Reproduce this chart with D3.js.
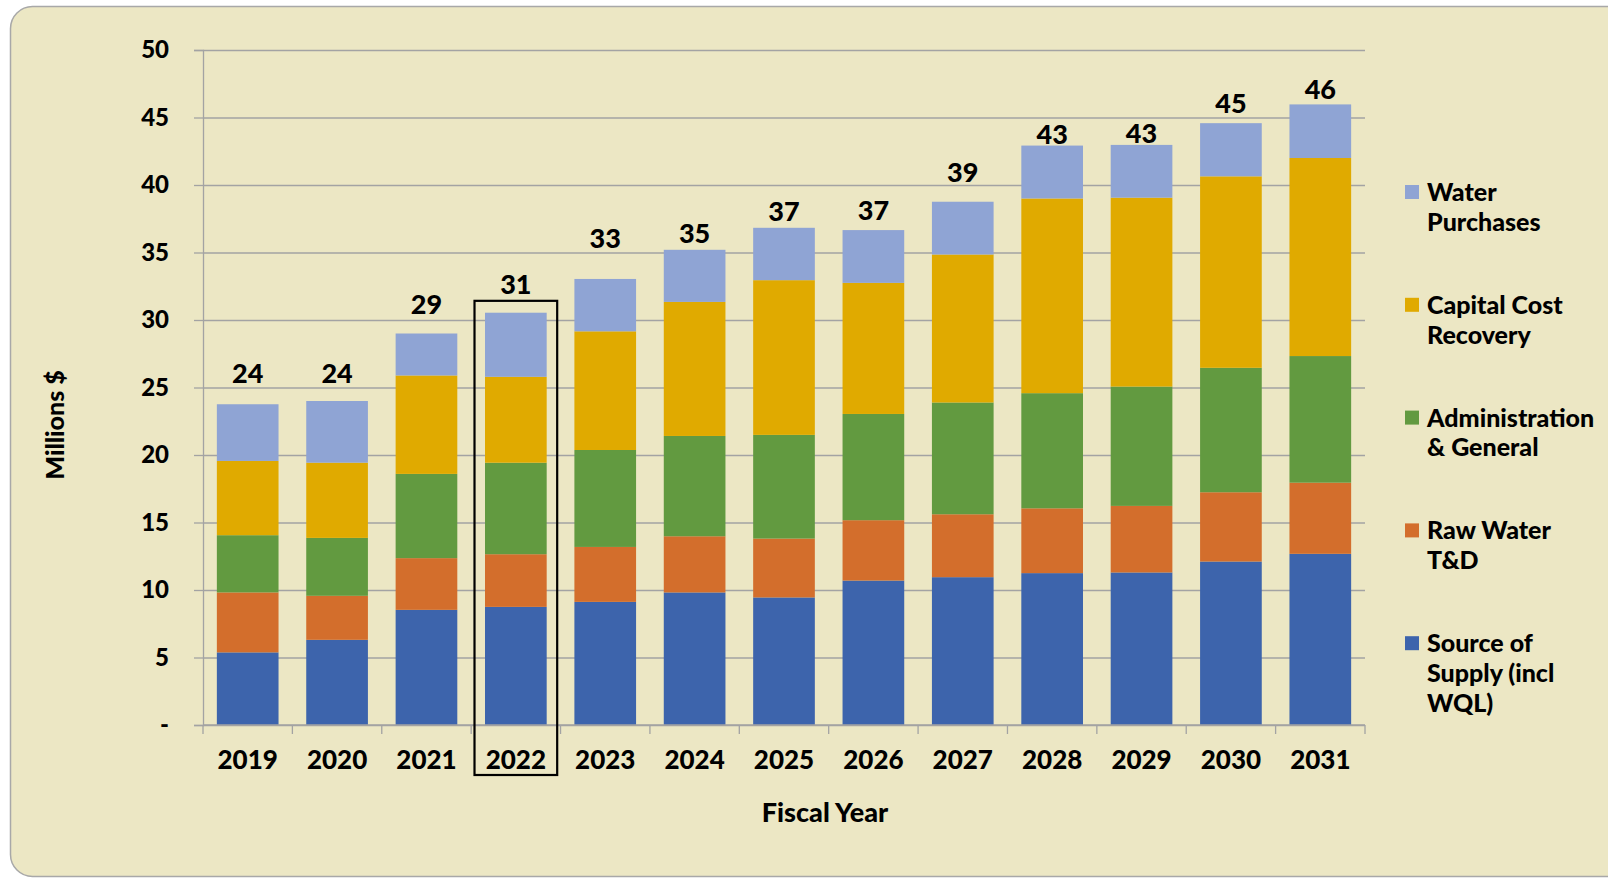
<!DOCTYPE html>
<html>
<head>
<meta charset="utf-8">
<script src="https://cdn.jsdelivr.net/npm/d3@7"></script>
<style>
  body { margin: 0; background: #ffffff; }
  svg { display: block; font-family: Lato, "Open Sans", sans-serif; font-weight: bold; }
</style>
</head>
<body>
<div id="chart"></div>
<script>
// data (millions $)
var years = ["2019","2020","2021","2022","2023","2024","2025","2026","2027","2028","2029","2030","2031"];
var sourceSupply = [5.38, 6.31, 8.53, 8.75, 9.12, 9.82, 9.45, 10.70, 10.95, 11.25, 11.30, 12.11, 12.68];
var rawWater     = [4.44, 3.26, 3.83, 3.90, 4.07, 4.16, 4.36, 4.47, 4.66, 4.80, 4.93, 5.13, 5.27];
var adminGeneral = [4.24, 4.29, 6.24, 6.78, 7.18, 7.43, 7.68, 7.87, 8.28, 8.53, 8.84, 9.22, 9.38];
var capitalCost  = [5.50, 5.57, 7.29, 6.36, 8.79, 9.93, 11.46, 9.71, 10.96, 14.42, 13.99, 14.18, 14.67];
var waterPurch   = [4.20, 4.57, 3.11, 4.75, 3.88, 3.86, 3.88, 3.91, 3.91, 3.92, 3.91, 3.94, 3.97];
// total labels and the height (in millions) they sit at on the original chart
var totalLabels  = ["24","24","29","31","33","35","37","37","39","43","43","45","46"];
var labelAt      = [25.34, 25.34, 30.47, 31.94, 35.37, 35.70, 37.37, 37.41, 40.22, 43.04, 43.14, 45.33, 46.39];
var yTicks = [0, 5, 10, 15, 20, 25, 30, 35, 40, 45, 50];
var highlightYear = "2022";
var highlightTop = 31.42;

var seriesNames = ["Source of Supply (incl WQL)", "Raw Water T&D", "Administration & General", "Capital Cost Recovery", "Water Purchases"];
var seriesValues = [sourceSupply, rawWater, adminGeneral, capitalCost, waterPurch];
var seriesColors = ["#3d64ac", "#d36e2c", "#629a40", "#e0aa00", "#8fa4d4"];
var legendLines = [["Source of", "Supply (incl", "WQL)"], ["Raw Water", "T&D"], ["Administration", "& General"], ["Capital Cost", "Recovery"], ["Water", "Purchases"]];

// build rows for the stack
var rows = years.map(function(y, i) {
  var r = {year: y};
  seriesNames.forEach(function(s, k) { r[s] = seriesValues[k][i]; });
  return r;
});

var W = 1608, H = 880;
var margin = {top: 50, right: 243, bottom: 155, left: 203},
    width = W - margin.left - margin.right,
    height = H - margin.top - margin.bottom;

var svg = d3.select("#chart").append("svg")
  .attr("width", W).attr("height", H);

// panel background
svg.append("rect")
  .attr("x", 10.5).attr("y", 6.5)
  .attr("width", 1620).attr("height", 870)
  .attr("rx", 22).attr("ry", 22)
  .attr("fill", "#ece7c4")
  .attr("stroke", "#a8a8a8")
  .attr("stroke-width", 1.5);

var g = svg.append("g")
  .attr("transform", "translate(" + margin.left + "," + margin.top + ")");

var x = d3.scaleBand().domain(years).range([0, width]).paddingInner(0.31).paddingOuter(0.155);
var y = d3.scaleLinear().domain([0, 50]).range([height, 0]);

// gridlines
g.append("g")
  .call(d3.axisLeft(y).tickValues(yTicks).tickSize(-width).tickFormat(""))
  .call(function(a) {
    a.select(".domain").remove();
    a.selectAll("line").attr("stroke", "#a3a3a3").attr("stroke-width", 1.3);
  });

// y axis
g.append("g")
  .call(d3.axisLeft(y).tickValues(yTicks).tickSize(9).tickPadding(25)
    .tickFormat(function(d) { return d === 0 ? "-" : d; }))
  .call(function(a) {
    a.select(".domain").attr("stroke", "#a3a3a3").attr("stroke-width", 1.3);
    a.selectAll("line").attr("stroke", "#a3a3a3").attr("stroke-width", 1.3);
    a.selectAll("text").attr("fill", "#000").style("font-size", "24px")
      .style("font-family", "Lato, sans-serif").style("font-weight", "900");
  });

// bars
var stack = d3.stack().keys(seriesNames)(rows);
var color = d3.scaleOrdinal().domain(seriesNames).range(seriesColors);

g.append("g").selectAll("g")
  .data(stack)
  .enter().append("g")
    .attr("fill", function(d) { return color(d.key); })
  .selectAll("rect")
  .data(function(d) { return d; })
  .enter().append("rect")
    .attr("x", function(d) { return x(d.data.year); })
    .attr("y", function(d) { return y(d[1]); })
    .attr("width", x.bandwidth())
    .attr("height", function(d) { return y(d[0]) - y(d[1]); });

// x axis line and boundary ticks
var step = x.step();
var bounds = years.map(function(d) { return x(d) - step * x.paddingInner() / 2; });
bounds.push(x(years[years.length - 1]) + x.bandwidth() + step * x.paddingInner() / 2);

g.append("line")
  .attr("x1", 0).attr("x2", width)
  .attr("y1", height).attr("y2", height)
  .attr("stroke", "#a3a3a3").attr("stroke-width", 1.3);

g.append("g").selectAll("line")
  .data(bounds)
  .enter().append("line")
    .attr("x1", function(d) { return d; }).attr("x2", function(d) { return d; })
    .attr("y1", height).attr("y2", height + 9)
    .attr("stroke", "#a3a3a3").attr("stroke-width", 1.3);

// x labels
g.append("g")
  .attr("transform", "translate(0," + height + ")")
  .call(d3.axisBottom(x).tickSize(0).tickPadding(26))
  .call(function(a) {
    a.select(".domain").remove();
    a.selectAll("text").attr("fill", "#000").style("font-size", "26px")
      .style("font-family", "Lato, sans-serif").style("font-weight", "900");
  });

// totals above bars
g.append("g").selectAll("text")
  .data(years)
  .enter().append("text")
    .attr("x", function(d) { return x(d) + x.bandwidth() / 2; })
    .attr("y", function(d, i) { return y(labelAt[i]); })
    .attr("text-anchor", "middle")
    .style("font-size", "27px")
    .style("font-weight", "900")
    .text(function(d, i) { return totalLabels[i]; });

// highlight box around 2022
g.append("rect")
  .attr("x", x(highlightYear) - 10.5)
  .attr("y", y(highlightTop))
  .attr("width", x.bandwidth() + 21)
  .attr("height", height - y(highlightTop) + 50)
  .attr("fill", "none")
  .attr("stroke", "#000")
  .attr("stroke-width", 2.2);

// axis titles
svg.append("text")
  .attr("transform", "translate(64,425) rotate(-90)")
  .attr("text-anchor", "middle")
  .style("font-size", "25px")
  .style("font-weight", "900")
  .text("Millions $");

svg.append("text")
  .attr("x", 825).attr("y", 822)
  .attr("text-anchor", "middle")
  .style("font-size", "27px")
  .style("font-weight", "900")
  .text("Fiscal Year");

// legend, top entry is the top of the stack
var legend = svg.append("g").attr("transform", "translate(1405,185)");
var order = [4, 3, 2, 1, 0];
order.forEach(function(k, i) {
  var item = legend.append("g").attr("transform", "translate(0," + (i * 112.8) + ")");
  item.append("rect")
    .attr("width", 14).attr("height", 14)
    .attr("fill", seriesColors[k]);
  legendLines[k].forEach(function(t, j) {
    item.append("text")
      .attr("x", 22).attr("y", 16 + j * 29.8)
      .style("font-size", "25px")
      .style("font-weight", "900")
      .text(t);
  });
});
</script>
</body>
</html>
